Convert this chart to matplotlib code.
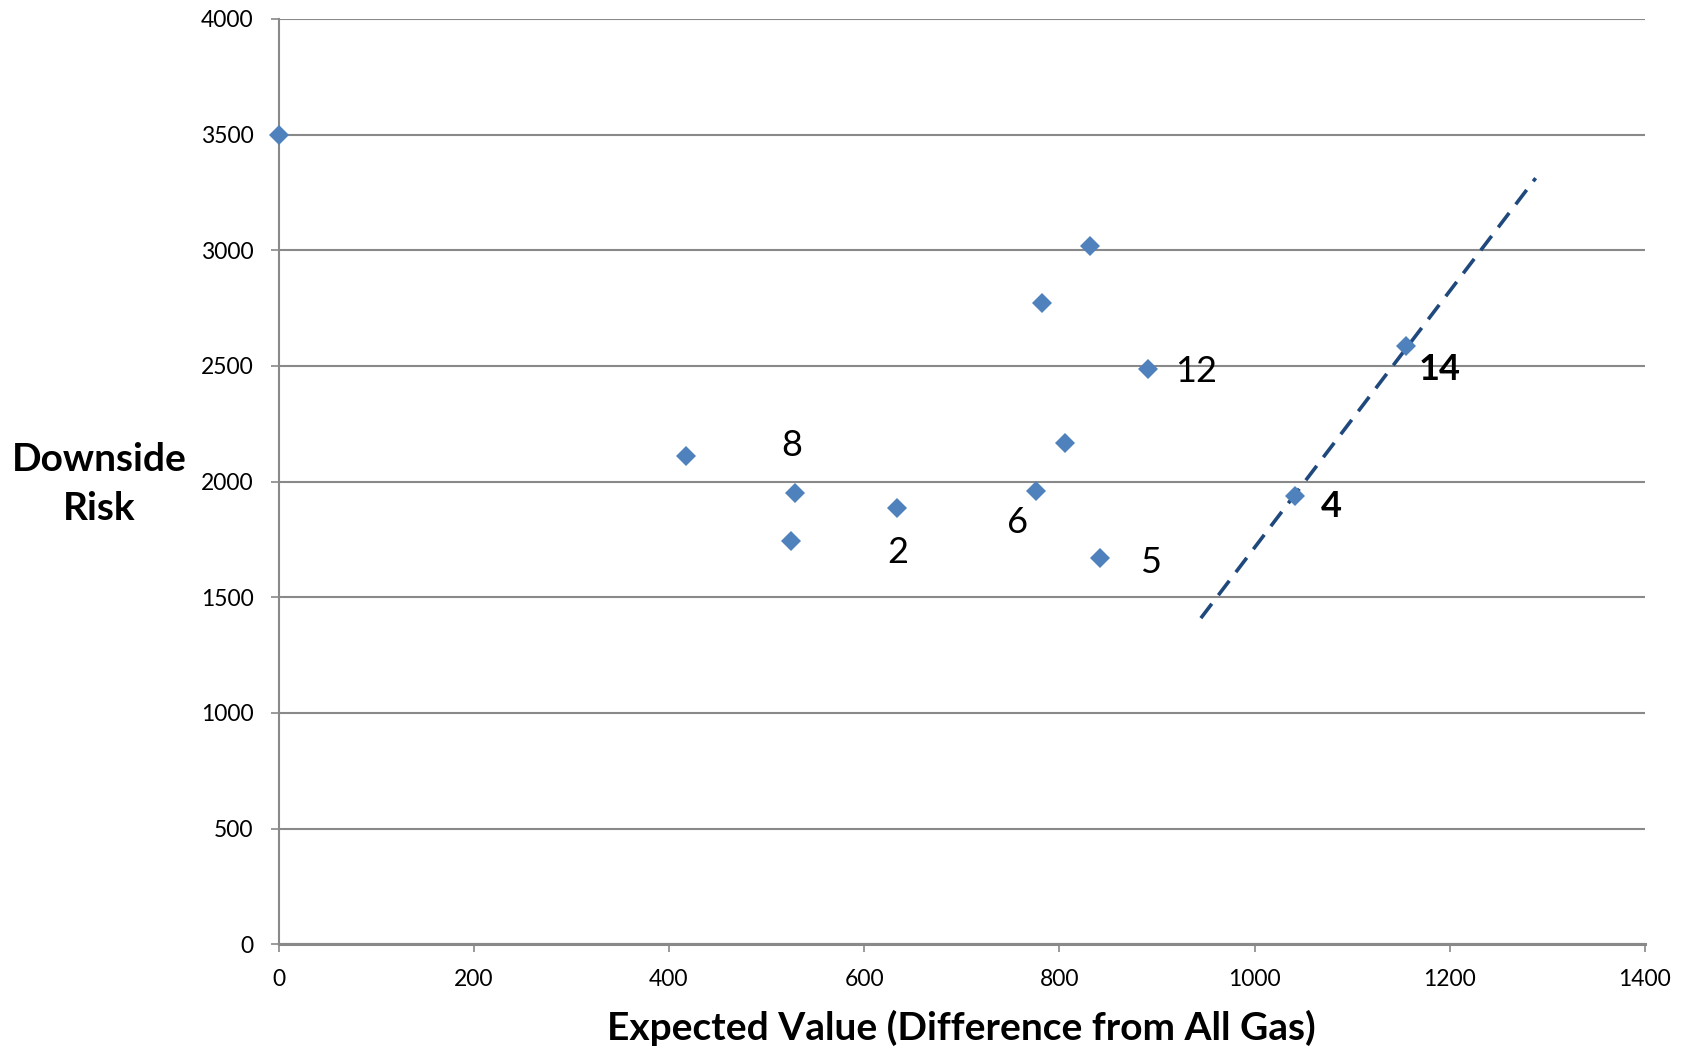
import numpy as np
import matplotlib.pyplot as plt

# ---------- data ----------
expected_value = [0, 418, 529, 525, 634, 776, 806, 782, 831, 891, 842, 1041, 1155]
downside_risk = [3500, 2111, 1952, 1744, 1886, 1960, 2169, 2771, 3018, 2486, 1671, 1940, 2587]

# labelled points: index into the series, text, bold?
label_idx = [2, 4, 5, 10, 9, 12, 11]
label_txt = ["8", "2", "6", "5", "12", "14", "4"]
label_bold = [False, False, False, False, False, True, True]
# offsets of the label centre from its point, in pixels (x right, y up)
label_off = [(-3, 47), (0, -44), (-18, -32), (50, -5), (48, -2), (34, -24), (37, -11)]

# efficient-frontier dashed line end points
frontier_x = [945, 1288]
frontier_y = [1410, 3312]

x_ticks = np.arange(0, 1401, 200)
y_ticks = np.arange(0, 4001, 500)

# ---------- plot ----------
plt.rcParams['font.family'] = ['Lato', 'DejaVu Sans']

fig = plt.figure(figsize=(16.88, 10.55), dpi=100)
ax = fig.add_axes([0.165, 0.1049, 0.8095, 0.8771])

grid_c = "#898989"
ax.set_xlim(0, 1400)
ax.set_ylim(0, 4000)
ax.set_xticks(x_ticks)
ax.set_yticks(y_ticks)
ax.yaxis.grid(True, color=grid_c, linewidth=1.5)
ax.set_axisbelow(True)
for s in ["top", "right"]:
    ax.spines[s].set_visible(False)
ax.spines["left"].set_color(grid_c)
ax.spines["left"].set_linewidth(1.5)
ax.spines["bottom"].set_color(grid_c)
ax.spines["bottom"].set_linewidth(2.2)
ax.tick_params(axis="both", colors=grid_c, length=6, width=1.2, labelsize=16.5,
               labelcolor="black", pad=12)

ax.plot(frontier_x, frontier_y, color="#1F497D", linewidth=2.6,
        dashes=(5, 3), zorder=2)
ax.plot(expected_value, downside_risk, linestyle="none", marker="D",
        markersize=10, color="#4F81BD", markeredgewidth=0, zorder=3, clip_on=False)

for i, t, b, off in zip(label_idx, label_txt, label_bold, label_off):
    ax.annotate(t, (expected_value[i], downside_risk[i]), xytext=off,
                textcoords="offset pixels", ha="center", va="center",
                fontsize=26, fontweight="bold" if b else "normal")

ax.set_xlabel("Expected Value (Difference from All Gas)", fontsize=28,
              fontweight="bold", labelpad=14)
fig.text(0.0587, 0.541, "Downside\nRisk", fontsize=28, fontweight="bold",
         ha="center", va="center", linespacing=1.5)

fig.savefig("out.png", dpi=100)
